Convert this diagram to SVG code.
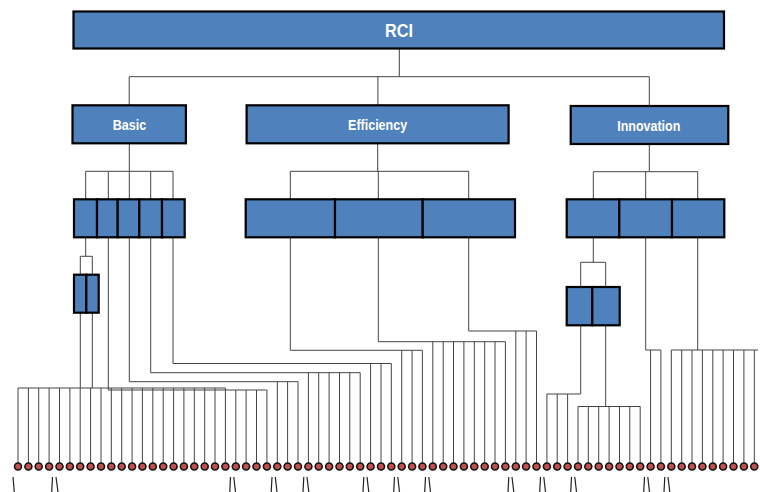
<svg xmlns="http://www.w3.org/2000/svg" width="760" height="492" viewBox="0 0 760 492">
<style>
.box{fill:#4F81BD;stroke:#000;stroke-width:2.2}
.lbl{fill:#fff;font-family:"Liberation Sans Narrow","Liberation Sans",Arial,sans-serif;font-weight:bold;text-anchor:middle}
.c{fill:none;stroke:#444;stroke-width:1}
.dot{fill:#C0504D;stroke:#111;stroke-width:1.6}
.tk{stroke:#222;stroke-width:1.2}
</style>
<rect width="760" height="492" fill="#fff"/>
<g id="connectors" class="c">
<path d="M399.3 48.5V76.7M129.2 76.7H649.3M129.2 76.7V105.3M377.9 76.7V105.3M649.3 76.7V106"/>
<path d="M129.3 143.3V171.3M85.7 171.3H173M85.7 171.3V199.3M108.3 171.3V199.3M129.3 171.3V199.3M150.7 171.3V199.3M173 171.3V199.3"/>
<path d="M377.7 143.3V171.3M290.3 171.3H468.7M290.3 171.3V199.3M378.3 171.3V199.3M468.7 171.3V199.3"/>
<path d="M649.3 144V171.7M593.3 171.7H697.7M593.3 171.7V199.3M645.7 171.7V199.3M697.7 171.7V199.3"/>
<path d="M85.7 237.3V256.3M80.3 256.3H92.3M80.3 256.3V274.7M92.3 256.3V274.7"/>
<path d="M593.3 237.3V262.3M580.7 262.3H605.7M580.7 262.3V287M605.7 262.3V287"/>
<path d="M80.3 312.7V388M92.3 312.7V388M18 388H225.4M108.3 237.3V390H266.9M129.3 237.3V381.7H298M150.7 237.3V372.7H360.2M173 237.3V363.5H391.3M290.3 237.3V350.3H422.4M378.3 237.3V341.7H505.4M468.7 237.3V331H536.5M580.7 325.3V394H546.9M605.7 325.3V406.5M578 406.5H640.2M645.7 237.3V350H660.9M697.7 237.3V350M671.3 350H758"/>
<path d="M18 388V463M28.4 388V463M38.7 388V463M49.1 388V463M59.5 388V463M69.9 388V463M80.2 388V463M90.6 388V463M101 388V463M111.3 388V463M121.7 388V463M132.1 388V463M142.4 388V463M152.8 388V463M163.2 388V463M173.6 388V463M183.9 388V463M194.3 388V463M204.7 388V463M215 388V463M225.4 388V463M235.8 390V463M246.1 390V463M256.5 390V463M266.9 390V463M277.3 381.7V463M287.6 381.7V463M298 381.7V463M308.4 372.7V463M318.7 372.7V463M329.1 372.7V463M339.5 372.7V463M349.8 372.7V463M360.2 372.7V463M370.6 363.5V463M381 363.5V463M391.3 363.5V463M401.7 350.3V463M412.1 350.3V463M422.4 350.3V463M432.8 341.7V463M443.2 341.7V463M453.5 341.7V463M463.9 341.7V463M474.3 341.7V463M484.7 341.7V463M495 341.7V463M505.4 341.7V463M515.8 331V463M526.1 331V463M536.5 331V463M546.9 394V463M557.2 394V463M567.6 394V463M578 406.5V463M588.3 406.5V463M598.7 406.5V463M609.1 406.5V463M619.5 406.5V463M629.8 406.5V463M640.2 406.5V463M650.6 350V463M660.9 350V463M671.3 350V463M681.7 350V463M692 350V463M702.4 350V463M712.8 350V463M723.1 350V463M733.5 350V463M743.9 350V463M754.3 350V463"/>
</g>
<g id="rci"><rect class="box" x="73.5" y="11.5" width="650.5" height="37"/><text class="lbl" x="399" y="37" font-size="19" textLength="28" lengthAdjust="spacingAndGlyphs">RCI</text></g>
<g id="basic"><rect class="box" x="72.5" y="105.3" width="113.4" height="38"/><text class="lbl" x="129.4" y="130" font-size="15" textLength="33.5" lengthAdjust="spacingAndGlyphs">Basic</text></g>
<g id="efficiency"><rect class="box" x="246.6" y="105.3" width="262" height="38"/><text class="lbl" x="377.6" y="130" font-size="15" textLength="59" lengthAdjust="spacingAndGlyphs">Efficiency</text></g>
<g id="innovation"><rect class="box" x="570.7" y="106" width="157.6" height="38"/><text class="lbl" x="648.8" y="130.5" font-size="15" textLength="63" lengthAdjust="spacingAndGlyphs">Innovation</text></g>
<g id="basic-pillars"><rect class="box" x="74" y="199.3" width="23" height="38"/><rect class="box" x="97" y="199.3" width="20.7" height="38"/><rect class="box" x="117.7" y="199.3" width="21.6" height="38"/><rect class="box" x="139.3" y="199.3" width="22.7" height="38"/><rect class="box" x="162" y="199.3" width="22.7" height="38"/></g>
<g id="basic-sub"><rect class="box" x="74" y="274.7" width="12.3" height="38"/><rect class="box" x="86.3" y="274.7" width="12.4" height="38"/></g>
<g id="efficiency-pillars"><rect class="box" x="245.7" y="199.3" width="89.3" height="38"/><rect class="box" x="335" y="199.3" width="87.7" height="38"/><rect class="box" x="422.7" y="199.3" width="92.3" height="38"/></g>
<g id="innovation-pillars"><rect class="box" x="566.7" y="199.3" width="52.6" height="38"/><rect class="box" x="619.3" y="199.3" width="52.7" height="38"/><rect class="box" x="672" y="199.3" width="52.3" height="38"/></g>
<g id="innovation-sub"><rect class="box" x="566.7" y="287" width="25.6" height="38.3"/><rect class="box" x="592.3" y="287" width="27.4" height="38.3"/></g>
<g id="indicators">
<circle class="dot" cx="18" cy="466.5" r="3.5"/><circle class="dot" cx="28.4" cy="466.5" r="3.5"/><circle class="dot" cx="38.7" cy="466.5" r="3.5"/><circle class="dot" cx="49.1" cy="466.5" r="3.5"/><circle class="dot" cx="59.5" cy="466.5" r="3.5"/><circle class="dot" cx="69.9" cy="466.5" r="3.5"/><circle class="dot" cx="80.2" cy="466.5" r="3.5"/><circle class="dot" cx="90.6" cy="466.5" r="3.5"/><circle class="dot" cx="101" cy="466.5" r="3.5"/><circle class="dot" cx="111.3" cy="466.5" r="3.5"/><circle class="dot" cx="121.7" cy="466.5" r="3.5"/><circle class="dot" cx="132.1" cy="466.5" r="3.5"/><circle class="dot" cx="142.4" cy="466.5" r="3.5"/><circle class="dot" cx="152.8" cy="466.5" r="3.5"/><circle class="dot" cx="163.2" cy="466.5" r="3.5"/><circle class="dot" cx="173.6" cy="466.5" r="3.5"/><circle class="dot" cx="183.9" cy="466.5" r="3.5"/><circle class="dot" cx="194.3" cy="466.5" r="3.5"/><circle class="dot" cx="204.7" cy="466.5" r="3.5"/><circle class="dot" cx="215" cy="466.5" r="3.5"/><circle class="dot" cx="225.4" cy="466.5" r="3.5"/><circle class="dot" cx="235.8" cy="466.5" r="3.5"/><circle class="dot" cx="246.1" cy="466.5" r="3.5"/><circle class="dot" cx="256.5" cy="466.5" r="3.5"/><circle class="dot" cx="266.9" cy="466.5" r="3.5"/><circle class="dot" cx="277.3" cy="466.5" r="3.5"/><circle class="dot" cx="287.6" cy="466.5" r="3.5"/><circle class="dot" cx="298" cy="466.5" r="3.5"/><circle class="dot" cx="308.4" cy="466.5" r="3.5"/><circle class="dot" cx="318.7" cy="466.5" r="3.5"/><circle class="dot" cx="329.1" cy="466.5" r="3.5"/><circle class="dot" cx="339.5" cy="466.5" r="3.5"/><circle class="dot" cx="349.8" cy="466.5" r="3.5"/><circle class="dot" cx="360.2" cy="466.5" r="3.5"/><circle class="dot" cx="370.6" cy="466.5" r="3.5"/><circle class="dot" cx="381" cy="466.5" r="3.5"/><circle class="dot" cx="391.3" cy="466.5" r="3.5"/><circle class="dot" cx="401.7" cy="466.5" r="3.5"/><circle class="dot" cx="412.1" cy="466.5" r="3.5"/><circle class="dot" cx="422.4" cy="466.5" r="3.5"/><circle class="dot" cx="432.8" cy="466.5" r="3.5"/><circle class="dot" cx="443.2" cy="466.5" r="3.5"/><circle class="dot" cx="453.5" cy="466.5" r="3.5"/><circle class="dot" cx="463.9" cy="466.5" r="3.5"/><circle class="dot" cx="474.3" cy="466.5" r="3.5"/><circle class="dot" cx="484.7" cy="466.5" r="3.5"/><circle class="dot" cx="495" cy="466.5" r="3.5"/><circle class="dot" cx="505.4" cy="466.5" r="3.5"/><circle class="dot" cx="515.8" cy="466.5" r="3.5"/><circle class="dot" cx="526.1" cy="466.5" r="3.5"/><circle class="dot" cx="536.5" cy="466.5" r="3.5"/><circle class="dot" cx="546.9" cy="466.5" r="3.5"/><circle class="dot" cx="557.2" cy="466.5" r="3.5"/><circle class="dot" cx="567.6" cy="466.5" r="3.5"/><circle class="dot" cx="578" cy="466.5" r="3.5"/><circle class="dot" cx="588.3" cy="466.5" r="3.5"/><circle class="dot" cx="598.7" cy="466.5" r="3.5"/><circle class="dot" cx="609.1" cy="466.5" r="3.5"/><circle class="dot" cx="619.5" cy="466.5" r="3.5"/><circle class="dot" cx="629.8" cy="466.5" r="3.5"/><circle class="dot" cx="640.2" cy="466.5" r="3.5"/><circle class="dot" cx="650.6" cy="466.5" r="3.5"/><circle class="dot" cx="660.9" cy="466.5" r="3.5"/><circle class="dot" cx="671.3" cy="466.5" r="3.5"/><circle class="dot" cx="681.7" cy="466.5" r="3.5"/><circle class="dot" cx="692" cy="466.5" r="3.5"/><circle class="dot" cx="702.4" cy="466.5" r="3.5"/><circle class="dot" cx="712.8" cy="466.5" r="3.5"/><circle class="dot" cx="723.1" cy="466.5" r="3.5"/><circle class="dot" cx="733.5" cy="466.5" r="3.5"/><circle class="dot" cx="743.9" cy="466.5" r="3.5"/><circle class="dot" cx="754.3" cy="466.5" r="3.5"/>
</g>
<g id="ticks" class="tk">
<path d="M13 477L14.3 492"/>
<path d="M52.5 477L51.7 492M56 477L58 492"/>
<path d="M230.5 477L229.8 492M233.8 477L235.5 492"/>
<path d="M272 477L271.2 492M275.3 477L277 492"/>
<path d="M303.8 477L303 492M307 477L308.8 492"/>
<path d="M363.8 477L363 492M367 477L368.8 492"/>
<path d="M394.5 477L393.7 492M397.8 477L399.5 492"/>
<path d="M425.5 477L424.7 492M428.8 477L430.5 492"/>
<path d="M508.8 477L508 492M512 477L513.8 492"/>
<path d="M540.5 477L539.7 492M543.8 477L545.5 492"/>
<path d="M571.5 477L570.7 492M574.8 477L576.5 492"/>
<path d="M644.5 477L643.7 492M647.8 477L649.5 492"/>
<path d="M664.8 477L664 492M668 477L669.8 492"/>
</g>
</svg>
